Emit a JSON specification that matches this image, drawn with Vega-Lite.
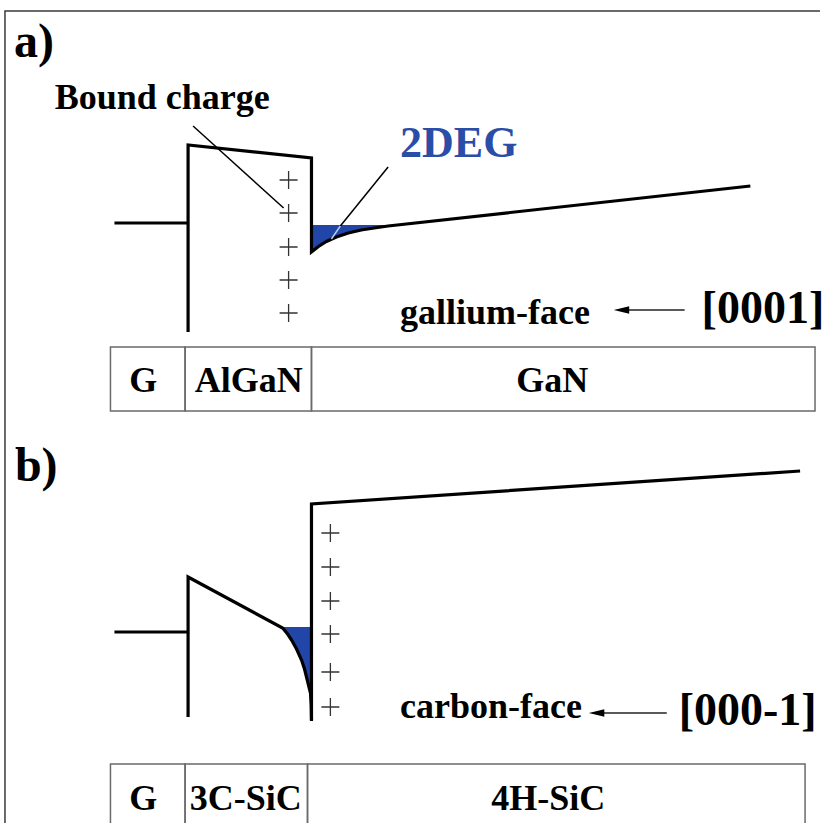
{
  "$schema": "https://vega.github.io/schema/vega-lite/v6.json",
  "width": 824,
  "height": 823,
  "padding": 0,
  "autosize": {"type": "fit", "contains": "padding"},
  "background": "white",
  "config": {"view": {"stroke": null}},
  "data": {"values": [
    {"k": "frame", "x": 5, "y": 11, "x2": 840, "y2": 840},
    {"k": "cell", "x": 111, "x2": 186, "y": 347, "y2": 411},
    {"k": "cell", "x": 186, "x2": 313, "y": 347, "y2": 411},
    {"k": "cell", "x": 313, "x2": 819, "y": 347, "y2": 411},
    {"k": "cell", "x": 111, "x2": 186, "y": 764, "y2": 840},
    {"k": "cell", "x": 186, "x2": 309, "y": 764, "y2": 840},
    {"k": "cell", "x": 309, "x2": 809, "y": 764, "y2": 840},

    {"k": "fa", "x": 313, "y": 252, "y2": 225},
    {"k": "fa", "x": 320, "y": 246.5, "y2": 225},
    {"k": "fa", "x": 328, "y": 241.5, "y2": 225},
    {"k": "fa", "x": 338, "y": 237, "y2": 225},
    {"k": "fa", "x": 350, "y": 233, "y2": 225},
    {"k": "fa", "x": 363, "y": 230, "y2": 225},
    {"k": "fa", "x": 376, "y": 228, "y2": 225},
    {"k": "fa", "x": 388, "y": 226.5, "y2": 225},
    {"k": "fa", "x": 390, "y": 225, "y2": 225},

    {"k": "fb", "y": 627, "x": 284, "x2": 313},
    {"k": "fb", "y": 628, "x": 284, "x2": 313},
    {"k": "fb", "y": 634, "x": 289, "x2": 313},
    {"k": "fb", "y": 640, "x": 293, "x2": 313},
    {"k": "fb", "y": 649, "x": 298, "x2": 313},
    {"k": "fb", "y": 660, "x": 303, "x2": 313},
    {"k": "fb", "y": 669, "x": 306, "x2": 313},
    {"k": "fb", "y": 677, "x": 308, "x2": 313},
    {"k": "fb", "y": 685, "x": 310, "x2": 313},
    {"k": "fb", "y": 693, "x": 312, "x2": 313},

    {"k": "band", "p": "a1", "i": 0, "x": 115, "y": 223},
    {"k": "band", "p": "a1", "i": 1, "x": 189, "y": 223},
    {"k": "band", "p": "a2", "i": 0, "x": 189, "y": 332},
    {"k": "band", "p": "a2", "i": 1, "x": 189, "y": 145},
    {"k": "band", "p": "a2", "i": 2, "x": 313, "y": 158},
    {"k": "band", "p": "a2", "i": 3, "x": 313, "y": 252},
    {"k": "band", "p": "a2", "i": 4, "x": 320, "y": 246.5},
    {"k": "band", "p": "a2", "i": 5, "x": 328, "y": 241.5},
    {"k": "band", "p": "a2", "i": 6, "x": 338, "y": 237},
    {"k": "band", "p": "a2", "i": 7, "x": 350, "y": 233},
    {"k": "band", "p": "a2", "i": 8, "x": 363, "y": 230},
    {"k": "band", "p": "a2", "i": 9, "x": 376, "y": 228},
    {"k": "band", "p": "a2", "i": 10, "x": 390, "y": 226},
    {"k": "band", "p": "a2", "i": 11, "x": 754, "y": 186},
    {"k": "band", "p": "b1", "i": 0, "x": 115, "y": 632},
    {"k": "band", "p": "b1", "i": 1, "x": 189, "y": 632},
    {"k": "band", "p": "b2", "i": 0, "x": 189, "y": 717},
    {"k": "band", "p": "b2", "i": 1, "x": 189, "y": 577},
    {"k": "band", "p": "b2", "i": 2, "x": 284, "y": 628},
    {"k": "band", "p": "b2", "i": 3, "x": 289, "y": 634},
    {"k": "band", "p": "b2", "i": 4, "x": 293, "y": 640},
    {"k": "band", "p": "b2", "i": 5, "x": 298, "y": 649},
    {"k": "band", "p": "b2", "i": 6, "x": 303, "y": 660},
    {"k": "band", "p": "b2", "i": 7, "x": 306, "y": 669},
    {"k": "band", "p": "b2", "i": 8, "x": 308, "y": 677},
    {"k": "band", "p": "b2", "i": 9, "x": 310, "y": 685},
    {"k": "band", "p": "b2", "i": 10, "x": 312, "y": 693},
    {"k": "band", "p": "b2", "i": 11, "x": 312.7, "y": 705},
    {"k": "band", "p": "b2", "i": 12, "x": 313, "y": 720},
    {"k": "band", "p": "b3", "i": 0, "x": 313, "y": 721},
    {"k": "band", "p": "b3", "i": 1, "x": 313, "y": 504},
    {"k": "band", "p": "b3", "i": 2, "x": 804, "y": 471},

    {"k": "lead", "x": 194, "y": 126, "x2": 285, "y2": 208},
    {"k": "lead", "x": 390, "y": 167, "x2": 342, "y2": 226},
    {"k": "leadL", "x": 342, "y": 226, "x2": 333, "y2": 239},

    {"k": "arr", "x": 624, "y": 310, "x2": 688, "y2": 310},
    {"k": "arr", "x": 600, "y": 713, "x2": 670, "y2": 713},
    {"k": "head", "x": 624.5, "y": 310},
    {"k": "head", "x": 599.5, "y": 713},

    {"k": "plus", "x": 290, "y": 180},
    {"k": "plus", "x": 290, "y": 213},
    {"k": "plus", "x": 290, "y": 247},
    {"k": "plus", "x": 290, "y": 280},
    {"k": "plus", "x": 290, "y": 313},
    {"k": "plus", "x": 332, "y": 533},
    {"k": "plus", "x": 332, "y": 567},
    {"k": "plus", "x": 332, "y": 601},
    {"k": "plus", "x": 332, "y": 634},
    {"k": "plus", "x": 332, "y": 672},
    {"k": "plus", "x": 332, "y": 707},

    {"k": "tPanel", "x": 14, "y": 57, "t": "a)"},
    {"k": "tPanel", "x": 15, "y": 481, "t": "b)"},
    {"k": "tNote", "x": 55, "y": 109, "t": "Bound charge"},
    {"k": "tNote", "x": 402, "y": 324, "t": "gallium-face"},
    {"k": "tNote", "x": 402, "y": 718, "t": "carbon-face"},
    {"k": "tDir", "x": 705, "y": 323, "t": "[0001]"},
    {"k": "tDir", "x": 682, "y": 725, "t": "[000-1]"},
    {"k": "t2deg", "x": 402, "y": 157, "t": "2DEG"},
    {"k": "tCell", "x": 144, "y": 392, "t": "G"},
    {"k": "tCell", "x": 250, "y": 392, "t": "AlGaN"},
    {"k": "tCell", "x": 555, "y": 392, "t": "GaN"},
    {"k": "tCell", "x": 144, "y": 810, "t": "G"},
    {"k": "tCell", "x": 247, "y": 810, "t": "3C-SiC"},
    {"k": "tCell", "x": 551, "y": 810, "t": "4H-SiC"}
  ]},
  "encoding": {
    "x": {"field": "x", "type": "quantitative", "scale": {"domain": [0, 824], "nice": false, "zero": false}, "axis": null},
    "y": {"field": "y", "type": "quantitative", "scale": {"domain": [0, 823], "nice": false, "zero": false, "reverse": true}, "axis": null}
  },
  "layer": [
    {
      "transform": [{"filter": "datum.k == 'frame'"}],
      "mark": {"type": "rect", "fill": null, "stroke": "#3a3a3a", "strokeWidth": 1.5, "clip": true},
      "encoding": {"x2": {"field": "x2"}, "y2": {"field": "y2"}}
    },
    {
      "transform": [{"filter": "datum.k == 'cell'"}],
      "mark": {"type": "rect", "fill": null, "stroke": "#6a6a6a", "strokeWidth": 1.5, "clip": true},
      "encoding": {"x2": {"field": "x2"}, "y2": {"field": "y2"}}
    },
    {
      "transform": [{"filter": "datum.k == 'fa'"}],
      "mark": {"type": "area", "fill": "#2146a8", "opacity": 1},
      "encoding": {"y2": {"field": "y2"}}
    },
    {
      "transform": [{"filter": "datum.k == 'fb'"}],
      "mark": {"type": "area", "orient": "horizontal", "fill": "#2146a8", "opacity": 1},
      "encoding": {"x2": {"field": "x2"}}
    },
    {
      "transform": [{"filter": "datum.k == 'band'"}],
      "mark": {"type": "line", "stroke": "black", "strokeWidth": 3.2, "strokeJoin": "miter", "strokeCap": "butt"},
      "encoding": {"detail": {"field": "p"}, "order": {"field": "i", "type": "quantitative"}}
    },
    {
      "transform": [{"filter": "datum.k == 'lead'"}],
      "mark": {"type": "rule", "stroke": "black", "strokeWidth": 1.5},
      "encoding": {"x2": {"field": "x2"}, "y2": {"field": "y2"}}
    },
    {
      "transform": [{"filter": "datum.k == 'leadL'"}],
      "mark": {"type": "rule", "stroke": "#b8c8f0", "strokeWidth": 1.5},
      "encoding": {"x2": {"field": "x2"}, "y2": {"field": "y2"}}
    },
    {
      "transform": [{"filter": "datum.k == 'arr'"}],
      "mark": {"type": "rule", "stroke": "#222", "strokeWidth": 1.3},
      "encoding": {"x2": {"field": "x2"}, "y2": {"field": "y2"}}
    },
    {
      "transform": [{"filter": "datum.k == 'head'"}],
      "mark": {"type": "point", "shape": "M-1,0L1,-0.5L1,0.5Z", "size": 240, "filled": true, "fill": "black", "stroke": null, "opacity": 1},
      "encoding": {}
    },
    {
      "transform": [{"filter": "datum.k == 'plus'"}],
      "mark": {"type": "point", "shape": "M-1,0H1M0,-1V1", "size": 324, "filled": false, "stroke": "#333", "strokeWidth": 1.3, "opacity": 1},
      "encoding": {}
    },
    {
      "transform": [{"filter": "datum.k == 'tPanel'"}],
      "mark": {"type": "text", "font": "Liberation Serif", "fontWeight": "bold", "fontSize": 48, "align": "left", "baseline": "alphabetic", "color": "black"},
      "encoding": {"text": {"field": "t"}}
    },
    {
      "transform": [{"filter": "datum.k == 'tNote'"}],
      "mark": {"type": "text", "font": "Liberation Serif", "fontWeight": "bold", "fontSize": 36, "align": "left", "baseline": "alphabetic", "color": "black"},
      "encoding": {"text": {"field": "t"}}
    },
    {
      "transform": [{"filter": "datum.k == 'tDir'"}],
      "mark": {"type": "text", "font": "Liberation Serif", "fontWeight": "bold", "fontSize": 46, "align": "left", "baseline": "alphabetic", "color": "black"},
      "encoding": {"text": {"field": "t"}}
    },
    {
      "transform": [{"filter": "datum.k == 't2deg'"}],
      "mark": {"type": "text", "font": "Liberation Serif", "fontWeight": "bold", "fontSize": 44, "align": "left", "baseline": "alphabetic", "color": "#2a4ea8"},
      "encoding": {"text": {"field": "t"}}
    },
    {
      "transform": [{"filter": "datum.k == 'tCell'"}],
      "mark": {"type": "text", "font": "Liberation Serif", "fontWeight": "bold", "fontSize": 36, "align": "center", "baseline": "alphabetic", "color": "black"},
      "encoding": {"text": {"field": "t"}}
    }
  ]
}
